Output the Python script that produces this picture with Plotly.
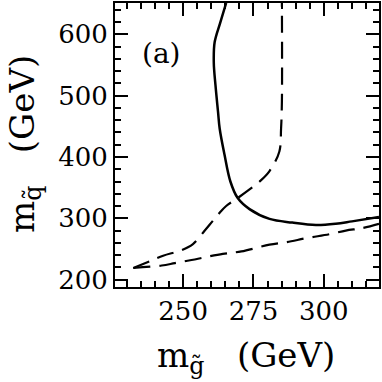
import plotly.graph_objects as go

# ── Curves (m_gluino, m_squark in GeV) ─────────────────────────────
solid_x = [265.3, 263.2, 261.2, 260.9, 261.5, 262.4, 263.0, 264.7, 266.8,
           269.4, 273.6, 280.7, 288.8, 297.2, 304.2, 310.0, 319.6]
solid_y = [651, 619, 587, 554, 517, 474, 446, 404, 360,
           333, 315, 299, 293, 289, 291, 295, 302]

upper_x = [232.3, 238.2, 242.9, 249.4, 253.5, 257.7, 260.6, 263.0, 265.3,
           269.4, 273.6, 277.2, 280.7, 284.2, 284.8, 285.1, 285.1]
upper_y = [219, 230, 239, 248, 258, 280, 296, 309, 320,
           333, 347, 360, 377, 409, 446, 490, 651]

lower_x = [232.3, 242.4, 247.1, 253.0, 258.3, 264.1, 270.7, 280.7,
           286.6, 294.2, 301.9, 307.8, 313.7, 319.6]
lower_y = [219, 223, 227, 232, 237, 242, 246, 257,
           261, 268, 274, 280, 284, 291]

x_ticks = [250, 275, 300]
y_ticks = [200, 300, 400, 500, 600]

serif = "DejaVu Serif"

fig = go.Figure()
fig.add_trace(go.Scatter(x=solid_x, y=solid_y, mode="lines", line_shape="spline",
                         line=dict(color="black", width=2.5)))
fig.add_trace(go.Scatter(x=upper_x, y=upper_y, mode="lines", line_shape="spline",
                         line=dict(color="black", width=2.2, dash="17px,9px")))
fig.add_trace(go.Scatter(x=lower_x, y=lower_y, mode="lines", line_shape="spline",
                         line=dict(color="black", width=2.2, dash="17px,9px")))

axis_common = dict(
    showgrid=False, zeroline=False, showline=True, linecolor="black", linewidth=2,
    mirror="ticks", ticks="inside", ticklen=13, tickwidth=2, tickcolor="black",
    tickfont=dict(family=serif, size=26, color="black"),
)
fig.update_xaxes(range=[225.8, 319.6], tickvals=x_ticks,
                 minor=dict(dtick=5, tick0=225, ticks="inside", ticklen=6,
                            tickwidth=1.5, tickcolor="black"),
                 **axis_common)
fig.update_yaxes(range=[188, 651], tickvals=y_ticks,
                 minor=dict(dtick=20, tick0=200, ticks="inside", ticklen=6,
                            tickwidth=1.5, tickcolor="black"),
                 **axis_common)

fig.add_annotation(text="(a)", x=0.178, y=0.822, xref="paper", yref="paper",
                   xanchor="center", yanchor="middle", showarrow=False,
                   font=dict(family=serif, size=28, color="black"))
fig.add_annotation(text="m<sub>g̃</sub>&nbsp;&nbsp; (GeV)", x=0.496, y=-0.248,
                   xref="paper", yref="paper", showarrow=False,
                   xanchor="center", yanchor="middle",
                   font=dict(family=serif, size=34, color="black"))
fig.add_annotation(text="m<sub>q̃</sub>&nbsp;&nbsp; (GeV)", x=-0.345, y=0.503,
                   xref="paper", yref="paper", showarrow=False, textangle=-90,
                   xanchor="center", yanchor="middle",
                   font=dict(family=serif, size=34, color="black"))

fig.update_layout(width=382, height=382, showlegend=False,
                  margin=dict(l=115, r=2, t=1, b=95),
                  paper_bgcolor="white", plot_bgcolor="white")
# page body has a default 8px margin; drop it so the figure sits at 0,0
fig.write_html("out.html", config={"displayModeBar": False},
               post_script="document.body.style.margin='0';")
